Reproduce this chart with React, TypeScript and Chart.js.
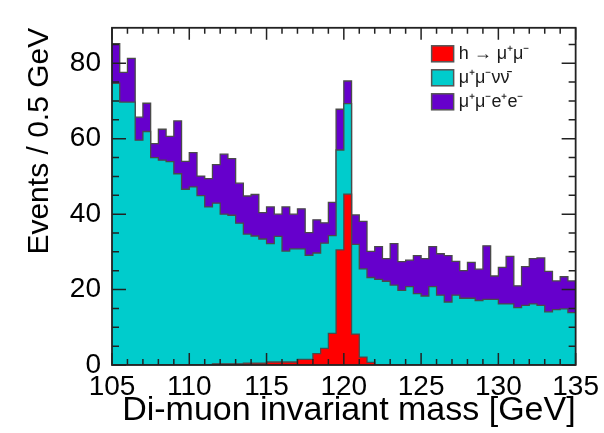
import { useEffect, useRef } from "react";
import { Chart, registerables } from "chart.js";

Chart.register(...registerables);

// Histogram binning (Di-muon invariant mass, GeV)
const MASS_MIN = 105;
const MASS_MAX = 135;
const BIN_WIDTH = 0.5;

// Events per 0.5 GeV bin, for each stacked component (60 bins, 105 -> 135 GeV)
const signalHmumu = [
  0, 0, 0, 0, 0, 0, 0, 0, 0, 0,
  0, 0, 0, 0.3, 0.3, 0.3, 0.3, 0.5, 0.5, 0.5,
  0.8, 0.8, 0.8, 0.8, 1.5, 1.5, 3.0, 4.4, 8.4, 30.5,
  45.3, 8.2, 2.1, 0.7, 0, 0, 0, 0, 0, 0,
  0, 0, 0, 0, 0, 0, 0, 0, 0, 0,
  0, 0, 0, 0, 0, 0, 0, 0, 0, 0,
];

const bkgMumuNuNu = [
  74.7, 69.7, 69.7, 59.6, 61.9, 55.0, 54.3, 53.9, 50.7, 46.6,
  47.2, 44.9, 41.9, 42.6, 39.7, 39.4, 37.3, 34.2, 33.7, 32.9,
  31.4, 33.3, 29.4, 30.0, 29.3, 27.6, 26.7, 27.9, 25.9, 26.5,
  24.0, 23.8, 23.4, 22.5, 22.7, 22.2, 21.2, 19.8, 20.8, 18.9,
  18.3, 20.8, 18.5, 16.7, 18.5, 17.7, 17.7, 17.1, 17.4, 17.4,
  16.2, 16.2, 15.2, 15.8, 16.2, 15.8, 14.1, 14.7, 14.9, 13.9,
];

const bkgMumuEe = [
  10.5, 7.9, 11.6, 6.1, 7.5, 3.7, 8.2, 6.7, 14.0, 7.4,
  9.1, 5.2, 7.5, 10.2, 15.9, 15.0, 10.6, 10.1, 11.0, 7.0,
  9.7, 5.9, 11.7, 9.2, 10.6, 6.0, 8.8, 5.4, 8.8, 10.8,
  6.0, 7.8, 12.6, 6.9, 8.7, 6.0, 11.0, 7.6, 7.0, 10.1,
  9.9, 10.6, 11.0, 12.3, 9.0, 7.3, 9.5, 8.3, 14.2, 6.2,
  9.7, 12.6, 5.8, 10.3, 12.0, 12.6, 10.7, 7.6, 8.5, 8.4,
];

const seriesLabels = ["h \u2192 \u03bc\u207a\u03bc\u207b", "\u03bc\u207a\u03bc\u207b\u03bd\u03bd\u0304", "\u03bc\u207a\u03bc\u207be\u207ae\u207b"];
const seriesColors = ["#ff0000", "#00cccc", "#6600cc"];

const xTickValues = [105, 110, 115, 120, 125, 130, 135];
const yTickValues = [0, 20, 40, 60, 80];
const Y_MAX = 89.4;

const xTitle = "Di-muon invariant mass [GeV]";
const yTitle = "Events / 0.5 GeV";

const FONT = "'Liberation Sans', Arial, Helvetica, sans-serif";

function cumulative(...parts: number[][]): number[] {
  return parts[0].map((_, i) => parts.reduce((s, p) => s + p[i], 0));
}

function toSteps(values: number[]) {
  const pts = values.map((v, i) => ({ x: MASS_MIN + BIN_WIDTH * i, y: v }));
  pts.push({ x: MASS_MAX, y: values[values.length - 1] });
  return pts;
}

const rootStylePlugin = {
  id: "rootStyle",
  afterDatasetsDraw(chart: any) {
    const { ctx, chartArea: a, scales } = chart;
    const xs = scales.x;
    const ys = scales.y;
    ctx.save();
    ctx.strokeStyle = "#222";
    ctx.lineWidth = 1.5;
    ctx.beginPath();
    for (let v = MASS_MIN; v <= MASS_MAX + 1e-6; v += 1) {
      const px = xs.getPixelForValue(v);
      const major = Math.abs((v - MASS_MIN) % 5) < 1e-6;
      const len = major ? 12 : 6;
      ctx.moveTo(px, a.bottom);
      ctx.lineTo(px, a.bottom - len);
      ctx.moveTo(px, a.top);
      ctx.lineTo(px, a.top + len);
    }
    for (let v = 0; v <= Y_MAX + 1e-6; v += 5) {
      const py = ys.getPixelForValue(v);
      const major = Math.abs(v % 20) < 1e-6;
      const len = major ? 14 : 7;
      ctx.moveTo(a.left, py);
      ctx.lineTo(a.left + len, py);
      ctx.moveTo(a.right, py);
      ctx.lineTo(a.right - len, py);
    }
    ctx.stroke();
    ctx.lineWidth = 1.8;
    ctx.strokeRect(a.left, a.top, a.right - a.left, a.bottom - a.top);

    // legend (inside the frame, top right)
    const boxX = a.right - 144;
    const datasets = chart.data.datasets;
    ctx.font = `18px ${FONT}`;
    ctx.textBaseline = "middle";
    ctx.textAlign = "left";
    datasets.forEach((ds: any, i: number) => {
      const cy = a.top + 26 + i * 24;
      ctx.fillStyle = ds.backgroundColor;
      ctx.fillRect(boxX, cy - 8, 22, 16);
      ctx.strokeStyle = "#555";
      ctx.lineWidth = 1.5;
      ctx.strokeRect(boxX, cy - 8, 22, 16);
      ctx.fillStyle = "#1a1a1a";
      ctx.fillText(ds.label, boxX + 27, cy);
    });
    ctx.restore();
  },
};

export default function App() {
  const canvasRef = useRef<HTMLCanvasElement | null>(null);

  useEffect(() => {
    if (!canvasRef.current) return;
    const redTop = cumulative(signalHmumu);
    const cyanTop = cumulative(signalHmumu, bkgMumuNuNu);
    const purpleTop = cumulative(signalHmumu, bkgMumuNuNu, bkgMumuEe);
    const tops = [redTop, cyanTop, purpleTop];

    const chart = new Chart(canvasRef.current, {
      type: "line",
      data: {
        datasets: tops.map((t, i) => ({
          label: seriesLabels[i],
          data: toSteps(t),
          stepped: true,
          fill: "origin",
          backgroundColor: seriesColors[i],
          borderColor: "#4a4a4a",
          borderWidth: 1.3,
          pointRadius: 0,
          pointHoverRadius: 0,
        })),
      },
      options: {
        animation: false,
        responsive: false,
        events: [],
        layout: { padding: { left: 0, right: 26, top: 11, bottom: 0 } },
        plugins: {
          legend: { display: false },
          tooltip: { enabled: false },
        },
        scales: {
          x: {
            type: "linear",
            min: MASS_MIN,
            max: MASS_MAX,
            afterFit: (s: any) => {
              s.height = 68;
            },
            afterBuildTicks: (s: any) => {
              s.ticks = xTickValues.map((v) => ({ value: v }));
            },
            grid: { display: false, drawTicks: false },
            border: { display: false },
            ticks: {
              autoSkip: false,
              maxRotation: 0,
              padding: 5,
              color: "#000",
              font: { family: FONT, size: 28 },
              callback: (v: any) => String(v),
            },
            title: {
              display: true,
              text: xTitle,
              align: "end",
              color: "#000",
              font: { family: FONT, size: 34 },
              padding: { top: 0, bottom: 2 },
            },
          },
          y: {
            type: "linear",
            min: 0,
            max: Y_MAX,
            afterFit: (s: any) => {
              s.width = 112;
            },
            afterBuildTicks: (s: any) => {
              s.ticks = yTickValues.map((v) => ({ value: v }));
            },
            grid: { display: false, drawTicks: false },
            border: { display: false },
            ticks: {
              padding: 11,
              color: "#000",
              font: { family: FONT, size: 28 },
              callback: (v: any) => String(v),
            },
            title: {
              display: true,
              text: yTitle,
              align: "end",
              color: "#000",
              font: { family: FONT, size: 30 },
              padding: { top: 22, bottom: 0 },
            },
          },
        },
      },
      plugins: [rootStylePlugin],
    } as any);

    return () => chart.destroy();
  }, []);

  return (
    <div style={{ position: "fixed", left: 0, top: 0, width: 604, height: 433, background: "#fff" }}>
      <canvas ref={canvasRef} width={604} height={433} style={{ width: 604, height: 433 }} />
    </div>
  );
}
